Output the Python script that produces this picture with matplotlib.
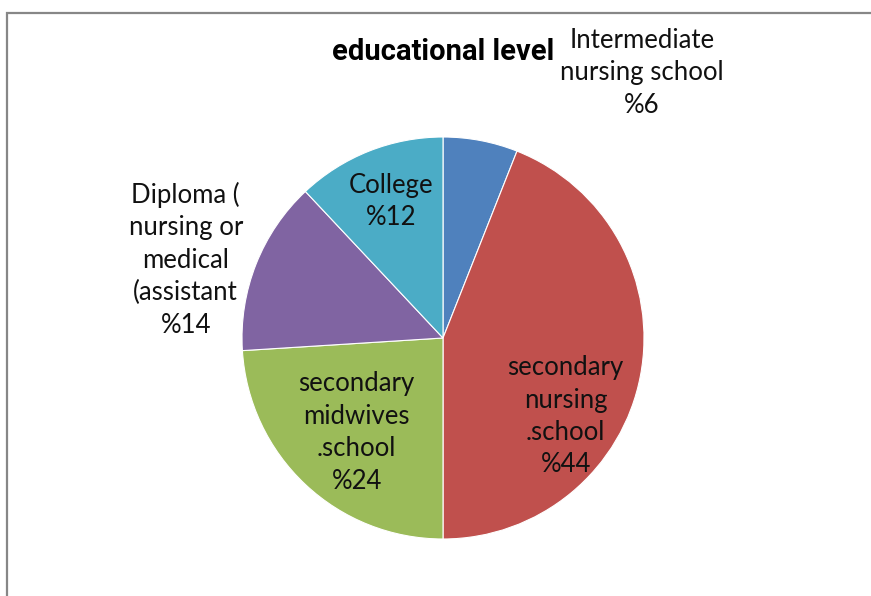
import matplotlib
matplotlib.use('Agg')
import matplotlib.pyplot as plt
from matplotlib.patches import Rectangle

# data
labels = ['Intermediate\nnursing school\n%6',
          'secondary\nnursing\n.school\n%44',
          'secondary\nmidwives\n.school\n%24',
          'Diploma (\nnursing or\nmedical\n(assistant\n%14',
          'College\n%12']
values = [6, 44, 24, 14, 12]
colors = ['#4F81BD', '#C0504D', '#9BBB59', '#8064A2', '#4BACC6']

W, H = 871, 596
fig = plt.figure(figsize=(W / 100, H / 100), dpi=100)
fig.patch.set_facecolor('white')

# chart frame (only top/left edges visible in the crop)
fig.add_artist(Rectangle((6.5 / W, -0.1), 1.2, 1.1 - 12.5 / H, transform=fig.transFigure,
                         fill=False, edgecolor='#878787', linewidth=1.6))

cx, cy, r = 443, 338, 201
ax = fig.add_axes([(cx - r) / W, (H - cy - r) / H, 2 * r / W, 2 * r / H])
wedges, _ = ax.pie(values, colors=colors, startangle=90, counterclock=False,
                   radius=1, wedgeprops={'edgecolor': 'white', 'linewidth': 0.8})
ax.set_xlim(-1, 1)
ax.set_ylim(-1, 1)
ax.set_aspect('equal')
ax.axis('off')

# label positions (axes data units)
label_pos = [(0.99, 1.32), (0.61, -0.39), (-0.43, -0.47), (-1.28, 0.39), (-0.26, 0.68)]
for lab, (x, y) in zip(labels, label_pos):
    ax.text(x, y, lab, ha='center', va='center', fontsize=18.5, family=['Lato', 'DejaVu Sans'],
            color='#111111', linespacing=1.37, clip_on=False)

fig.text(443 / W, 1 - 52 / H, 'educational level', ha='center', va='center', fontsize=21,
         fontweight='bold', family=['Roboto', 'DejaVu Sans'], color='black')

fig.savefig('out.png', dpi=100, facecolor='white')
